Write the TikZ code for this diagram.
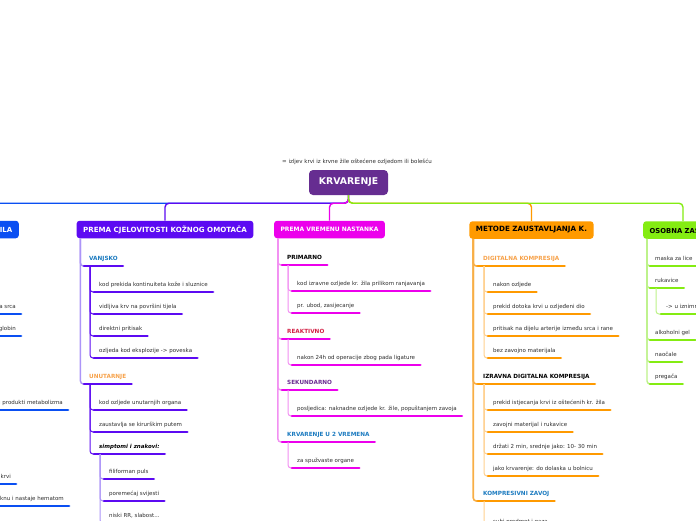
\documentclass[tikz,border=0pt]{standalone}
\usepackage{fontspec}
\setmainfont{DejaVu Sans}
\usetikzlibrary{calc}

\definecolor{kblue}{HTML}{0A4FF2}
\definecolor{kpurple}{HTML}{5C0AF2}
\definecolor{klpurple}{HTML}{AC94F8}
\definecolor{kmag}{HTML}{EC00EC}
\definecolor{klmag}{HTML}{F290F2}
\definecolor{korange}{HTML}{FF9A00}
\definecolor{kmorange}{HTML}{F8AE45}
\definecolor{klorange}{HTML}{FFD190}
\definecolor{kgreen}{HTML}{84EC12}
\definecolor{klgreen}{HTML}{BDF28A}
\definecolor{kcentre}{HTML}{662D91}
\definecolor{kteal}{HTML}{1C7BC0}
\definecolor{kamber}{HTML}{F7A24A}
\definecolor{kred}{HTML}{D42046}
\definecolor{kviolet}{HTML}{6B2D92}
\definecolor{kink}{HTML}{2E2E2E}

% parent, offset of the twig, x of the leaves, bar colour, twig options, leaves
\newcommand\kids[6]{\foreach \n/\y/\txt in {#6} {
  \node[leaf] (\n) at (#3,\y) {\txt};
  \draw[#5] ($(#1.south west)+(#2,0)$) |- (\n.south west);
  \draw[ubar=#4] (\n.south west) -- (\n.south east);}}

\begin{document}
\begin{tikzpicture}[x=1pt, y=-1pt, font=\fontsize{5.5}{6.5}\selectfont, text=kink,
  box/.style={fill=#1, rounded corners=3pt, inner xsep=6.5pt, inner ysep=1pt, minimum height=17.5pt, text=white},
  bfont/.style={font=\bfseries\fontsize{#1}{#1}\selectfont},
  leaf/.style={anchor=south west, inner xsep=5pt, inner ysep=5pt, text height=4pt, text depth=0pt},
  lvl/.style={leaf, text=#1, font=\bfseries\fontsize{5.7}{6.5}\selectfont},
  ubar/.style={draw=#1, line width=2.8pt, line cap=round},
  twig/.style={draw=#1, line width=1pt, rounded corners=3pt},
  trunk/.style={draw=#1, line width=1.4pt, rounded corners=4pt}]
\useasboundingbox (0,0) rectangle (696,520);
\clip (0,0) rectangle (696,520);
\fill[white] (0,0) rectangle (696,520);

\node[fill=kcentre, rounded corners=4pt, minimum width=79pt, minimum height=25pt, text=white, bfont=9.3] (kr) at (348.5,182.5) {KRVARENJE};
\node (def) at (357,162) {= izljev krvi iz krvne žile oštećene ozljedom ili bolešću};

\node[box=kblue, bfont=7, anchor=east, text width=40pt, align=right] (ila) at (19,229.5) {ILA};
\node[box=kpurple, bfont=7.1] (cjel) at (165,229.5) {PREMA CJELOVITOSTI KOŽNOG OMOTAČA};
\node[box=kmag, bfont=6] (vrem) at (329.5,229.5) {PREMA VREMENU NASTANKA};
\node[box=korange, bfont=7.2, text=black] (meto) at (531.5,230) {METODE ZAUSTAVLJANJA K.};
\node[box=kgreen, bfont=6.8, text=black, anchor=west] (osob) at (643,230) {OSOBNA ZAŠTITA};
\foreach \b/\c in {ila/kblue, cjel/kpurple, vrem/kmag, meto/korange, osob/kgreen}
  \draw[trunk=\c] (kr.south) -- ++(0,8) -| (\b.north);

\foreach \n/\x/\y/\txt in {b1/21/314/a srca, b2/21/336/globin, b3/68/410/i produkti metabolizma, b4/16/484/krvi, b5/69/506/knu i nastaje hematom} {
  \node[leaf, anchor=south east] (\n) at (\x,\y) {\txt};
  \draw[ubar=kblue] (\n.south east) -- ++(-90,0);}

\node[lvl=kteal] (vanj) at (84,266) {VANJSKO};
\node[lvl=kamber] (unut) at (84,384) {UNUTARNJE};
\foreach \n in {vanj,unut} {
  \draw[twig=klpurple, line width=1.4pt] ($(cjel.south west)+(4,0)$) |- (\n.south west);
  \draw[ubar=kpurple] (\n.south west) -- (\n.south east);}
\kids{vanj}{6}{94}{kpurple}{twig=kpurple}{v1/292/kod prekida kontinuiteta kože i sluznice, v2/314/vidljiva krv na površini tijela,
  v3/336/direktni pritisak, v4/358/ozljeda kod eksplozije -> poveska}
\kids{unut}{6}{94}{kpurple}{twig=kpurple}{u1/410/kod ozljede unutarnjih organa, u2/432/zaustavlja se kirurškim putem}
\node[leaf, text=black, font=\bfseries\itshape\fontsize{5.5}{6.5}\selectfont] (simp) at (94,454) {simptomi i znakovi:};
\draw[twig=kpurple] ($(unut.south west)+(6,0)$) |- (simp.south west);
\draw[ubar=kpurple] (simp.south west) -- (simp.south east);
\kids{simp}{6}{104}{kpurple}{twig=klpurple}{s1/479/filiforman puls, s2/501/poremećaj svijesti, s3/523/{niski RR, slabost...}}

\node[lvl=black] (prim) at (282,265) {PRIMARNO};
\node[lvl=kred] (reak) at (282,339) {REAKTIVNO};
\node[lvl=kviolet] (seku) at (282,390) {SEKUNDARNO};
\node[lvl=kteal] (dvav) at (282,442) {KRVARENJE U 2 VREMENA};
\foreach \n in {prim,reak,seku,dvav} {
  \draw[twig=klmag, line width=1.4pt] ($(vrem.south west)+(4,0)$) |- (\n.south west);
  \draw[ubar=kmag] (\n.south west) -- (\n.south east);}
\kids{prim}{6}{292}{kmag}{twig=klmag}{p1/291/kod izravne ozljede kr. žila prilikom ranjavanja, p2/313/{pr. ubod, zasijecanje}}
\kids{reak}{6}{292}{kmag}{twig=klmag}{r1/365/nakon 24h od operacije zbog pada ligature}
\kids{seku}{6}{292}{kmag}{twig=klmag}{e1/416/{posljedica: naknadne ozljede kr. žile, popuštanjem zavoja}}
\kids{dvav}{6}{292}{kmag}{twig=klmag}{w1/468/za spužvaste organe}

\node[lvl=kamber] (digi) at (478,266) {DIGITALNA KOMPRESIJA};
\node[lvl=black] (izra) at (478,384) {IZRAVNA DIGITALNA KOMPRESIJA};
\node[lvl=kteal] (komp) at (478,501) {KOMPRESIVNI ZAVOJ};
\foreach \n in {digi,izra,komp} {
  \draw[twig=kmorange, line width=1.6pt] ($(meto.south west)+(4,0)$) |- (\n.south west);
  \draw[ubar=korange] (\n.south west) -- (\n.south east);}
\kids{digi}{6}{488}{korange}{twig=klorange}{d1/292/nakon ozljede, d2/314/prekid dotoka krvi u ozljeđeni dio,
  d3/336/pritisak na dijelu arterije između srca i rane, d4/358/bez zavojno materijala}
\kids{izra}{6}{488}{korange}{twig=klorange}{i1/410/prekid istjecanja krvi iz oštećenih kr. žila, i2/432/zavojni materijal i rukavice,
  i3/454/{držati 2 min, srednje jako: 10- 30 min}, i4/476/jako krvarenje: do dolaska u bolnicu}
\kids{komp}{6}{488}{korange}{twig=klorange}{k1/529/suhi predmet i gaza}

\kids{osob}{4}{650}{kgreen}{twig=klgreen, line width=1.4pt}{g1/266/maska za lice, g2/288/rukavice, g3/340/alkoholni gel, g4/362/naočale, g5/384/pregača}
\kids{g2}{6}{661}{kgreen}{twig=klgreen}{g6/314/-> u iznimnim}
\end{tikzpicture}
\end{document}
